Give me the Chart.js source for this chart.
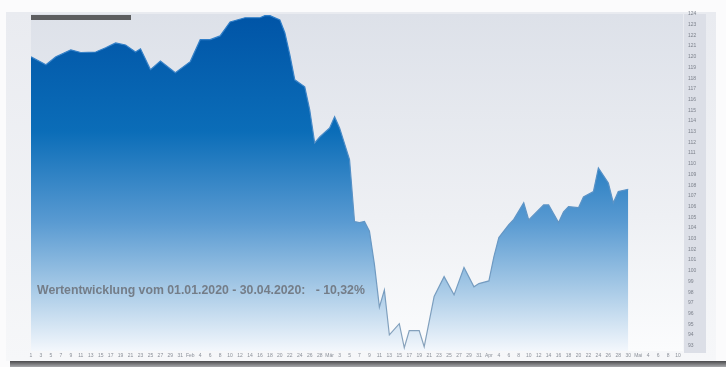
<!DOCTYPE html>
<html>
<head>
<meta charset="utf-8">
<script src="https://cdn.jsdelivr.net/npm/chart.js@4"></script>
<style>
  html, body { margin: 0; padding: 0; background: #ffffff; }
  #wrap { width: 726px; height: 367px; }
</style>
</head>
<body>
<div id="wrap"><canvas id="perf" width="726" height="367"></canvas></div>
<script>
// days since 01.01.2020 and fund price on that day
var days = [0, 3, 5, 8, 10, 13, 15, 17, 19, 21, 22, 24, 26, 29, 32, 34, 36, 38, 40, 43,
    46, 47, 48, 50, 51, 52, 53, 55, 56, 57, 58, 60, 61, 62, 64, 65, 66, 67, 68, 69,
    70, 71, 72, 74, 75, 76, 78, 79, 81, 83, 85, 87, 89, 90, 92, 93, 94, 96, 97, 99,
    100, 103, 104, 106, 107, 108, 110, 111, 113, 114, 116, 117, 118, 120];
var prices = [120.0, 119.25, 120.0, 120.65, 120.4, 120.45, 120.85, 121.3, 121.1, 120.45,
    120.75, 118.8, 119.6, 118.5, 119.55, 121.6, 121.6, 121.95, 123.25, 123.65,
    123.65, 123.85, 123.85, 123.45, 122.25, 120.2, 117.85, 117.2, 115.05, 111.95,
    112.5, 113.35, 114.4, 113.35, 110.4, 104.6, 104.5, 104.6, 103.7, 100.6,
    96.6, 98.2, 94.0, 95.05, 92.8, 94.4, 94.4, 92.9, 97.6, 99.45,
    97.75, 100.3, 98.5, 98.8, 99.05, 101.3, 103.1, 104.3, 104.8, 106.35,
    104.75, 106.15, 106.15, 104.5, 105.5, 106.0, 105.9, 106.9, 107.4, 109.6,
    108.2, 106.35, 107.4, 107.62];
var monthNames = ['Jan', 'Feb', 'Mär', 'Apr', 'Mai', 'Jun'];
var perfText = 'Wertentwicklung vom 01.01.2020 - 30.04.2020:   - 10,32%';

var points = [];
for (var i = 0; i < days.length; i++) {
    points.push({ x: days[i], y: prices[i] });
}

function day_label(value) {
    var d = new Date(2020, 0, 1 + value);
    if (d.getDate() <= 2 && value > 0) return monthNames[d.getMonth()];
    return String(d.getDate());
}

function fill_gradient(context) {
    var area = context.chart.chartArea;
    if (!area) return '#1a6fb8';
    var g = context.chart.ctx.createLinearGradient(0, area.top, 0, area.bottom);
    g.addColorStop(0, '#0054a6');
    g.addColorStop(0.35, '#0b6db8');
    g.addColorStop(0.62, '#5a9bd2');
    g.addColorStop(0.82, '#a9cbe7');
    g.addColorStop(1, '#f3f7fc');
    return g;
}

function line_gradient(context) {
    var area = context.chart.chartArea;
    if (!area) return '#3d85c6';
    var g = context.chart.ctx.createLinearGradient(0, area.top, 0, area.bottom);
    g.addColorStop(0, '#2b7cc8');
    g.addColorStop(0.6, '#5f95c6');
    g.addColorStop(1, '#8aa3bb');
    return g;
}

// card, plot background, right axis strip and bottom shadow
var backdrop = {
    id: 'backdrop',
    beforeDraw: function (chart) {
        var ctx = chart.ctx, a = chart.chartArea;
        ctx.save();
        ctx.fillStyle = '#fbfbfc';
        ctx.fillRect(0, 0, chart.width, chart.height);
        var cg = ctx.createLinearGradient(0, 12, 0, 360);
        cg.addColorStop(0, '#e9ebf0');
        cg.addColorStop(1, '#f6f7f9');
        ctx.fillStyle = cg;
        ctx.fillRect(6, 12, 710, 349);
        var pg = ctx.createLinearGradient(0, a.top, 0, a.bottom);
        pg.addColorStop(0, '#dde1e9');
        pg.addColorStop(0.6, '#eef0f4');
        pg.addColorStop(1, '#fbfcfd');
        ctx.fillStyle = pg;
        ctx.fillRect(a.left, a.top, a.right - a.left, a.bottom - a.top);
        ctx.fillStyle = '#dcdfe7';
        ctx.fillRect(a.right + 1, a.top, 22, a.bottom - a.top + 2);
        var sg = ctx.createLinearGradient(0, 361, 0, 367);
        sg.addColorStop(0, '#4a4a4c');
        sg.addColorStop(1, '#a9aaad');
        ctx.fillStyle = sg;
        ctx.fillRect(10, 361, 716, 6);
        ctx.restore();
    },
    afterDatasetsDraw: function (chart) {
        var ctx = chart.ctx, a = chart.chartArea;
        ctx.save();
        ctx.fillStyle = 'rgba(70,70,72,0.85)';
        ctx.fillRect(a.left, a.top + 1, 100, 5);
        ctx.font = 'bold 12.3px "Liberation Sans", Arial, sans-serif';
        ctx.fillStyle = '#747d88';
        ctx.textBaseline = 'middle';
        ctx.fillText(perfText, 37, 291);
        ctx.restore();
    }
};

new Chart(document.getElementById('perf'), {
    type: 'line',
    data: {
        datasets: [{
            data: points,
            fill: 'start',
            backgroundColor: fill_gradient,
            borderColor: line_gradient,
            borderWidth: 1.2,
            pointRadius: 0,
            tension: 0
        }]
    },
    options: {
        responsive: false,
        animation: false,
        layout: { padding: { left: 31, top: 14, right: 14, bottom: 8 } },
        plugins: { legend: { display: false }, tooltip: { enabled: false } },
        scales: {
            x: {
                type: 'linear',
                min: 0,
                max: 131,
                grid: { display: false, drawTicks: false },
                border: { display: false },
                afterFit: function (scale) { scale.height = 8; },
                ticks: {
                    stepSize: 2,
                    includeBounds: false,
                    autoSkip: false,
                    maxRotation: 0,
                    padding: 2,
                    color: '#8b9099',
                    font: { size: 5 },
                    callback: function (value) { return day_label(value); }
                }
            },
            y: {
                position: 'right',
                min: 92.5,
                max: 124,
                grid: { display: false, drawTicks: false },
                border: { display: false },
                afterFit: function (scale) { scale.width = 29; },
                ticks: {
                    stepSize: 1,
                    includeBounds: false,
                    padding: 5,
                    color: '#7d828c',
                    font: { size: 5 },
                    callback: function (value) { return value.toFixed(0); }
                }
            }
        }
    },
    plugins: [backdrop]
});
</script>
</body>
</html>
